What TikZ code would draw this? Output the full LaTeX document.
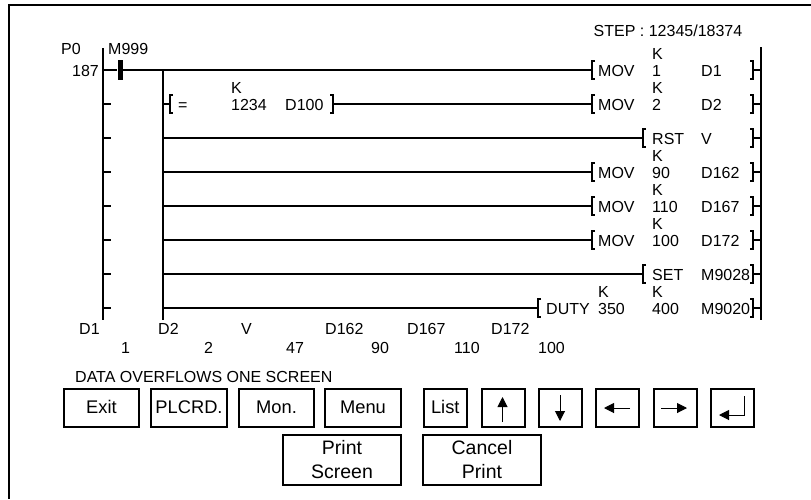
\documentclass[tikz,border=0pt]{standalone}
\usepackage{fontspec}
\setmainfont{Liberation Sans}
\usetikzlibrary{arrows.meta,positioning}

\begin{document}
\begin{tikzpicture}[x=1pt, y=-1pt,
  wire/.style={line width=1.6pt},
  opening/.style={wire, -{Bracket[reversed,width=20pt,length=3pt]}},
  closing/.style={wire, {Bracket[reversed,width=20pt,length=3pt]}-},
  both/.style={wire, {Bracket[reversed,width=20pt,length=3pt]}-{Bracket[reversed,width=20pt,length=3pt]}},
  lbl/.style={anchor=base west, inner sep=0pt, font=\fontsize{16}{16}\selectfont},
  btn/.style={draw, line width=1.6pt, outer sep=0pt, inner sep=0pt, minimum height=38pt, text height=13pt, text depth=2pt, font=\fontsize{18.3}{24}\selectfont},
  wide/.style={btn, minimum width=75.5pt},
  small/.style={btn, minimum width=43pt},
  print/.style={btn, minimum width=118pt, minimum height=50pt, align=center, text height=, text depth=, font=\fontsize{19.5}{24}\selectfont},
  key/.style={line width=1pt, -{Triangle[length=10pt,width=10pt]}},
  node distance=12pt]
\useasboundingbox (0,0) rectangle (811,499);

% screen frame, open at the right and at the bottom
\coordinate (tr) at (811,5);
\coordinate (tl) at (9,5);
\coordinate (bl) at (9,499);
\draw[wire] (tr) -- (tl) -- (bl);

% rails
\coordinate (lt) at (103,48);
\coordinate (lb) at (103,320);
\coordinate (mt) at (163,70);
\coordinate (mb) at (163,320);
\coordinate (rt) at (761,47);
\coordinate (rb) at (761,320);
\draw[wire] (lt) -- (lb);
\draw[wire] (mt) -- (mb);
\draw[wire] (rt) -- (rb);

\foreach \i/\y in {0/70,1/104,2/138,3/172,4/206,5/240,6/274,7/308} {
  \coordinate (l\i) at (103,\y);
  \coordinate (s\i) at (111,\y);
  \coordinate (m\i) at (163,\y);
  \coordinate (e\i) at (750,\y);
  \coordinate (r\i) at (761,\y);
  \draw[closing] (e\i) -- (r\i);
}
\foreach \i in {1,...,7} {
  \draw[wire] (l\i) -- (s\i);
}

% instruction brackets
\coordinate (b0) at (595,70);
\coordinate (b1) at (595,104);
\coordinate (b2) at (646,138);
\coordinate (b3) at (595,172);
\coordinate (b4) at (595,206);
\coordinate (b5) at (595,240);
\coordinate (b6) at (646,274);
\coordinate (b7) at (541,308);
\coordinate (eqo) at (173,104);
\coordinate (eqc) at (330,104);

\node[fill=black, minimum width=5pt, minimum height=20pt, inner sep=0pt] (contact) at (120,70) {};
\draw[wire] (l0) -- (contact);
\draw[opening] (contact) -- (b0);
\draw[opening] (m1) -- (eqo);
\draw[both] (eqc) -- (b1);
\draw[opening] (m2) -- (b2);
\draw[opening] (m3) -- (b3);
\draw[opening] (m4) -- (b4);
\draw[opening] (m5) -- (b5);
\draw[opening] (m6) -- (b6);
\draw[opening] (m7) -- (b7);

% header
\node[lbl] (step) at (593.5,36) {STEP : 12345/18374};
\node[lbl] (p0) at (61,54) {P0};
\node[lbl] (m999) at (108,54) {M999};
\node[lbl, anchor=base east] (n187) at (99,76) {187};

% row texts
\node[lbl] (eq) at (178,110) {=};
\node[lbl] (keq) at (231,93) {K};
\node[lbl] (v1234) at (231,110) {1234};
\node[lbl] (d100) at (285,110) {D100};

\node[lbl] (mov0) at (598,76) {MOV};
\node[lbl] (k0) at (652,59) {K};
\node[lbl] (v0) at (652,76) {1};
\node[lbl] (d0) at (701,76) {D1};

\node[lbl] (mov1) at (598,110) {MOV};
\node[lbl] (k1) at (652,93) {K};
\node[lbl] (v1) at (652,110) {2};
\node[lbl] (d1) at (701,110) {D2};

\node[lbl] (rst) at (652,144) {RST};
\node[lbl] (d2) at (701,144) {V};

\node[lbl] (mov3) at (598,178) {MOV};
\node[lbl] (k3) at (652,161) {K};
\node[lbl] (v3) at (652,178) {90};
\node[lbl] (d3) at (701,178) {D162};

\node[lbl] (mov4) at (598,212) {MOV};
\node[lbl] (k4) at (652,195) {K};
\node[lbl] (v4) at (652,212) {110};
\node[lbl] (d4) at (701,212) {D167};

\node[lbl] (mov5) at (598,246) {MOV};
\node[lbl] (k5) at (652,229) {K};
\node[lbl] (v5) at (652,246) {100};
\node[lbl] (d5) at (701,246) {D172};

\node[lbl] (set) at (652,280) {SET};
\node[lbl] (d6) at (701,280) {M9028};

\node[lbl] (duty) at (546,314) {DUTY};
\node[lbl] (k7a) at (598,297) {K};
\node[lbl] (v7a) at (598,314) {350};
\node[lbl] (k7b) at (652,297) {K};
\node[lbl] (v7b) at (652,314) {400};
\node[lbl] (d7) at (701,314) {M9020};

% monitored devices
\node[lbl] (wd1) at (79,334) {D1};
\node[lbl] (wd2) at (158,334) {D2};
\node[lbl] (wv) at (241,334) {V};
\node[lbl] (wd162) at (325,334) {D162};
\node[lbl] (wd167) at (407,334) {D167};
\node[lbl] (wd172) at (491,334) {D172};
\node[lbl] (val1) at (121,353) {1};
\node[lbl] (val2) at (204,353) {2};
\node[lbl] (val47) at (286,353) {47};
\node[lbl] (val90) at (371,353) {90};
\node[lbl] (val110) at (454,353) {110};
\node[lbl] (val100) at (538,353) {100};

\node[lbl] (overflow) at (75,382) {DATA OVERFLOWS ONE SCREEN};

% buttons
\node[wide] (exit) at (101.5,408) {Exit};
\node[wide, right=12pt of exit] (plcrd) {PLCRD.};
\node[wide, right=12pt of plcrd] (mon) {Mon.};
\node[wide, right=11pt of mon] (menu) {Menu};
\node[small, right=23pt of menu] (list) {List};
\node[small, right=15pt of list] (up) {};
\node[small, right=14pt of up] (down) {};
\node[small, right=14pt of down] (left) {};
\node[small, right=15pt of left] (right) {};
\node[small, right=14pt of right] (enter) {};
\node[print] (pscreen) at (342,460) {Print\\Screen};
\node[print] (cancel) at (482,460) {Cancel\\Print};

% key arrows
\coordinate (upa) at (502.5,422);
\coordinate (upb) at (502.5,397);
\coordinate (dna) at (560,395);
\coordinate (dnb) at (560,421);
\coordinate (lfa) at (630,408);
\coordinate (lfb) at (604,408);
\coordinate (rga) at (661,408);
\coordinate (rgb) at (687,408);
\coordinate (ena) at (744,396);
\coordinate (enc) at (744,415);
\coordinate (enb) at (719,415);
\draw[key] (upa) -- (upb);
\draw[key] (dna) -- (dnb);
\draw[key] (lfa) -- (lfb);
\draw[key] (rga) -- (rgb);
\draw[key] (ena) -- (enc) -- (enb);
\end{tikzpicture}
\end{document}
